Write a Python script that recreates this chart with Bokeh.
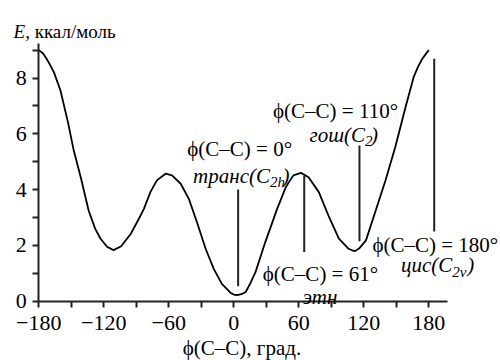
from bokeh.plotting import figure
from bokeh.models import Range1d, FixedTicker, Label
from bokeh.embed import file_html
from bokeh.resources import INLINE

# ---- data ----
phi = [-180, -176, -173, -170, -166, -160, -153, -148, -141, -134, -128, -123, -117, -111, -104,
       -95, -87, -83, -77, -71, -63, -57, -49, -41.5, -34, -26, -18.5, -11, -6, -3, 0, 3,
       7, 11, 15, 20, 29, 40, 48, 55, 62, 69, 78.5, 88, 97, 106, 110, 112, 116, 122, 131, 140,
       149, 158.5, 166, 170, 174, 178, 180]
energy = [9.0, 8.88, 8.7, 8.5, 8.2, 7.55, 6.4, 5.45, 4.4, 3.25, 2.6, 2.24, 1.95, 1.83, 1.97,
          2.42, 3.0, 3.31, 3.91, 4.33, 4.57, 4.51, 4.21, 3.67, 2.83, 1.88, 1.16, 0.62, 0.42, 0.3, 0.24, 0.22,
          0.25, 0.33, 0.62, 1.04, 2.11, 3.31, 4.09, 4.51, 4.6, 4.44, 3.91, 3.01, 2.24, 1.88, 1.81, 1.8, 1.9,
          2.18, 3.25, 4.33, 5.52, 6.95, 8.03, 8.4, 8.69, 8.9, 9.0]

mark_phi = [4, 65, 116, 185]
mark_lo = [0.54, 1.76, 2.15, 2.5]
mark_hi = [4.0, 4.5, 5.58, 8.69]

x_major = [-180, -120, -60, 0, 60, 120, 180]
x_minor = [-150, -90, -30, 30, 90, 150]
x_labels = ["\u2212180", "\u2212120", "\u221260", "0", "60", "120", "180"]
y_major = [0, 2, 4, 6, 8]
y_minor = [1, 3, 5, 7, 9]

FONT = '"Liberation Serif", "Times New Roman", serif'
FS = "21px"

p = figure(width=500, height=360, output_backend="svg", toolbar_location=None,
           x_range=Range1d(-215.35, 246.18), y_range=Range1d(-2.125, 10.778),
           min_border=0, min_border_left=0, min_border_right=0,
           min_border_top=0, min_border_bottom=0)
p.outline_line_color = None
p.grid.grid_line_color = None
p.background_fill_color = "white"
p.border_fill_color = "white"

p.line(phi, energy, line_color="black", line_width=1.8)
p.segment(x0=mark_phi, y0=mark_lo, x1=mark_phi, y1=mark_hi, line_color="#222222", line_width=2)

for ax in (p.xaxis[0], p.yaxis[0]):
    ax.axis_line_width = 2
    ax.axis_line_color = "#222222"
    ax.major_tick_line_width = 2
    ax.minor_tick_line_width = 2
    ax.major_tick_line_color = "#222222"
    ax.minor_tick_line_color = "#222222"
    ax.major_tick_in = 0
    ax.major_tick_out = 6
    ax.minor_tick_in = 0
    ax.minor_tick_out = 6
    ax.major_label_text_font = FONT
    ax.major_label_text_font_size = "22px"
    ax.major_label_text_color = "black"

p.xaxis.fixed_location = 0
p.xaxis.bounds = (-180, 197)
p.xaxis.ticker = FixedTicker(ticks=x_major, minor_ticks=x_minor)
p.xaxis.major_label_overrides = {t: l for t, l in zip(x_major, x_labels)}
p.xaxis.major_label_standoff = 9

p.yaxis.fixed_location = -180
p.yaxis.bounds = (0, 9.23)
p.yaxis.ticker = FixedTicker(ticks=y_major, minor_ticks=y_minor)
p.yaxis.major_label_standoff = 6


def lab(x, y, text, style="normal", align="left", size=FS):
    p.add_layout(Label(x=x, y=y, text=text, text_font=FONT, text_font_size=size,
                       text_font_style=style, text_align=align, text_baseline="alphabetic",
                       text_color="black"))


# axis titles
lab(-203.4, 9.66, "E", style="italic", size="19px")
lab(-192.6, 9.66, ", \u043a\u043a\u0430\u043b/\u043c\u043e\u043b\u044c", size="19px")
lab(7.57, -1.66, "\u03d5(C\u2013C), \u0433\u0440\u0430\u0434.", align="center", size="21px")

# annotations
lab(5.4, 5.44, "\u03d5(C\u2013C) = 0\u00b0", align="center")
lab(33.4, 4.5, "\u0442\u0440\u0430\u043d\u0441(C", style="italic", align="right")
lab(33.4, 4.27, "2h", style="italic", size="15px")
lab(45.0, 4.5, ")", style="italic")

lab(93.9, 6.8, "\u03d5(C\u2013C) = 110\u00b0", align="center")
lab(121.2, 5.96, "\u0433\u043e\u0448(C", style="italic", align="right")
lab(121.2, 5.73, "2", style="italic", size="15px")
lab(126.6, 5.96, ")", style="italic")

lab(80, 0.98, "\u03d5(C\u2013C) = 61\u00b0", align="center")
lab(79.6, 0.14, "\u044d\u0442\u043d", style="italic", align="center")

lab(128.0, 2.0, "\u03d5(C\u2013C) = 180\u00b0")
lab(201.6, 1.28, "\u0446\u0438\u0441(C", style="italic", align="right")
lab(201.6, 1.05, "2v", style="italic", size="15px")
lab(215.5, 1.28, ")", style="italic")

open("out.html", "w").write(file_html(p, INLINE))
